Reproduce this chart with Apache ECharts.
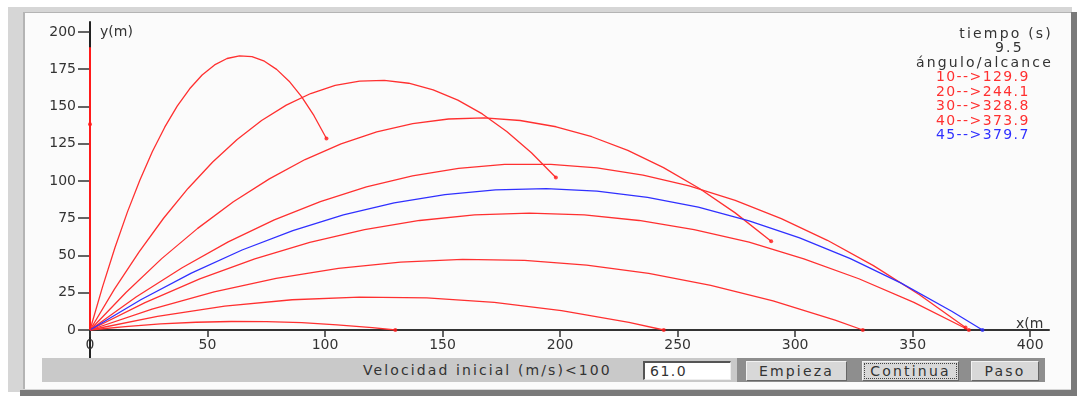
<!DOCTYPE html>
<html>
<head>
<meta charset="utf-8">
<script src="https://cdn.jsdelivr.net/npm/echarts@6/dist/echarts.min.js"></script>
<style>
  body { margin: 0; width: 1077px; height: 396px; background: #fff; position: relative; overflow: hidden; font-family: "DejaVu Sans", sans-serif; }
  .abs { position: absolute; }
  #frame { left: 8px; top: 7px; width: 1064px; height: 385px; background: #d6d6d6; }
  #rbar { left: 1071px; top: 12px; width: 6px; height: 384px; background: #7a7a7a; }
  #bbar { left: 20px; top: 390px; width: 1057px; height: 6px; background: #7a7a7a; }
  #panel { left: 23px; top: 12px; width: 1046px; height: 376px; background: #fbfbfb; border-left: 2px solid #b4b4b4; border-top: 1px solid #b4b4b4; }
  #chart { left: 0; top: 0; width: 1077px; height: 396px; }
  .leg { font-size: 14px; letter-spacing: 2.2px; line-height: 14px; white-space: nowrap; color: #333; }
  #ctrl { left: 42px; top: 358px; width: 1003px; height: 24px; background: #c9c9c9; }
  #ctrl .lbl { left: 321px; top: 4px; font-size: 14px; letter-spacing: 2.1px; color: #333; white-space: nowrap; }
  #inp { left: 601px; top: 3px; width: 80px; height: 16px; background: #fff; border-top: 2px solid #555; border-left: 2px solid #555; border-bottom: 1px solid #eee; border-right: 1px solid #eee; font-size: 14px; letter-spacing: 1.5px; color: #333; padding-left: 5px; line-height: 16px; box-sizing: content-box; }
  #btns { left: 695px; top: 0px; width: 308px; height: 24px; background: #8e8e8e; }
  .btn { top: 3px; height: 18px; background: #d8d8d8; border-top: 1px solid #f2f2f2; border-left: 1px solid #f2f2f2; border-bottom: 1px solid #666; border-right: 1px solid #666; font-size: 14px; letter-spacing: 2.2px; color: #333; text-align: center; line-height: 18px; white-space: nowrap; }
  .focus { outline: 1px dotted #444; outline-offset: -3px; }
</style>
</head>
<body>
<div class="abs" id="frame"></div>
<div class="abs" id="rbar"></div>
<div class="abs" id="bbar"></div>
<div class="abs" id="panel"></div>
<div class="abs" id="chart"></div>

<div class="abs leg" style="right:24px; top:26px;">tiempo (s)</div>
<div class="abs leg" style="left:995px; top:40px;">9.5</div>
<div class="abs leg" style="right:24px; top:55px;">ángulo/alcance</div>
<div class="abs leg" id="rows" style="left:936px; top:69px; line-height:14.5px; letter-spacing:1.4px;"></div>

<div class="abs" id="ctrl">
  <div class="abs lbl">Velocidad inicial (m/s)&lt;100</div>
  <div class="abs" id="inp">61.0</div>
  <div class="abs" id="btns">
    <div class="abs btn" style="left:9px; width:99px;">Empieza</div>
    <div class="abs btn focus" style="left:125px; width:95px;">Continua</div>
    <div class="abs btn" style="left:234px; width:66px;">Paso</div>
  </div>
</div>

<script>
// valores (v0 = 61 m/s, t = 9.5 s)
const angulos = [10, 20, 30, 40, 45]
const alcances = ['129.9', '244.1', '328.8', '373.9', '379.7']
const xTicks = [0, 50, 100, 150, 200, 250, 300, 350, 400]
const yTicks = [0, 25, 50, 75, 100, 125, 150, 175, 200]

const a10 = [[0, 0], [15.0, 2.3], [30.0, 4.1], [45.1, 5.2], [60.1, 5.7], [75.1, 5.6], [90.1, 4.9], [105.1, 3.5], [120.1, 1.6], [129.9, 0]]
const a20 = [[0, 0], [28.7, 9.2], [57.3, 16.0], [86.0, 20.3], [114.6, 22.1], [143.3, 21.5], [172.0, 18.5], [200.6, 13.0], [229.3, 5.1], [244.1, 0]]
const a30 = [[0, 0], [26.4, 14.0], [52.8, 25.6], [79.2, 34.7], [105.7, 41.4], [132.1, 45.6], [158.5, 47.4], [184.9, 46.7],
  [211.3, 43.6], [237.7, 38.0], [264.1, 30.0], [290.6, 19.5], [317.0, 6.6], [328.8, 0]]
const a40 = [[0, 0], [23.4, 18.4], [46.7, 34.3], [70.1, 47.8], [93.5, 58.8], [116.8, 67.4], [140.2, 73.5], [163.6, 77.2], [186.9, 78.4],
  [210.3, 77.2], [233.6, 73.5], [257.0, 67.4], [280.4, 58.9], [303.7, 47.8], [327.1, 34.4], [350.5, 18.5], [373.9, 0]]
const a45 = [[0, 0], [21.6, 20.3], [43.1, 38.2], [64.7, 53.7], [86.3, 66.7], [107.8, 77.2], [129.4, 85.3], [151.0, 90.9], [172.5, 94.1],
  [194.1, 94.9], [215.7, 93.2], [237.2, 89.0], [258.8, 82.4], [280.4, 73.3], [301.9, 61.8], [323.5, 47.9], [345.1, 31.5], [366.6, 12.6], [379.7, 0]]
const a50 = [[0, 0], [19.6, 22.1], [39.2, 41.8], [58.8, 59.1], [78.4, 73.9], [98.0, 86.2], [117.6, 96.1], [137.2, 103.5], [156.8, 108.5],
  [176.4, 111.1], [196.1, 111.1], [215.7, 108.8], [235.3, 104.0], [254.9, 96.7], [274.5, 87.0], [294.1, 74.8], [313.7, 60.2], [333.3, 43.2],
  [352.9, 23.7], [372.5, 1.7]]
const a60 = [[0, 0], [15.3, 25.2], [30.5, 47.9], [45.8, 68.2], [61.0, 86.1], [76.3, 101.4], [91.5, 114.4], [106.8, 124.9], [122.0, 132.9],
  [137.3, 138.5], [152.5, 141.6], [167.8, 142.3], [183.0, 140.6], [198.3, 136.4], [213.5, 129.7], [228.8, 120.6], [244.0, 109.0],
  [259.3, 95.0], [274.5, 78.6], [289.8, 59.6]]
const a70 = [[0, 0], [10.4, 27.4], [20.9, 52.4], [31.3, 75.0], [41.7, 95.0], [52.2, 112.7], [62.6, 127.9], [73.0, 140.6], [83.5, 150.9],
  [93.9, 158.7], [104.3, 164.1], [114.7, 167.0], [125.2, 167.5], [135.6, 165.6], [146.0, 161.2], [156.5, 154.3], [166.9, 145.0],
  [177.3, 133.2], [187.8, 119.0], [198.2, 102.3]]
const a80 = [[0, 0], [5.3, 28.8], [10.6, 55.2], [15.9, 79.1], [21.2, 100.5], [26.5, 119.6], [31.8, 136.1], [37.1, 150.2], [42.4, 161.9],
  [47.7, 171.1], [53.0, 177.9], [58.3, 182.2], [63.6, 184.0], [68.9, 183.5], [74.2, 180.4], [79.4, 174.9], [84.7, 167.0],
  [90.0, 156.6], [95.3, 143.8], [100.6, 128.5]]
const a90 = [[0, 0], [0, 189.8], [0, 138]]

const rojo = '#ff3030'
const azul = '#3030ff'

// tabla de la derecha
document.getElementById('rows').innerHTML = angulos
  .map((a, i) => '<div style="color:' + (a === 45 ? azul : rojo) + '">' + a + '--&gt;' + alcances[i] + '</div>')
  .join('')

const chart = echarts.init(document.getElementById('chart'))

const curvas = [a10, a20, a30, a40, a45, a50, a60, a70, a80]
const series = curvas.map((d) => ({
  type: 'line',
  data: d,
  showSymbol: false,
  silent: true,
  lineStyle: { color: d === a45 ? azul : rojo, width: 1.3 },
  z: d === a45 ? 4 : 3
}))
series.push({
  type: 'line',
  data: a90.slice(0, 2),
  showSymbol: false,
  lineStyle: { color: '#ff1a1a', width: 2 },
  z: 5
})
// puntos finales / posicion actual
series.push({
  type: 'scatter',
  symbolSize: 4,
  data: curvas.map((d) => ({ value: d[d.length - 1], itemStyle: { color: d === a45 ? azul : '#ff1a1a' } }))
    .concat([{ value: a90[2], itemStyle: { color: '#ff1a1a' } }]),
  z: 6
})

const txt = { fontFamily: 'DejaVu Sans', fontSize: 14, color: '#333' }

chart.setOption({
  animation: false,
  grid: { left: 90, top: 22, width: 959, height: 308 },
  xAxis: {
    type: 'value',
    min: 0,
    max: 408,
    splitLine: { show: false },
    axisLine: { lineStyle: { color: '#333', width: 2 } },
    axisTick: { customValues: xTicks, length: 7, lineStyle: { color: '#333', width: 1.5 } },
    axisLabel: { customValues: xTicks, margin: 8, ...txt }
  },
  yAxis: {
    type: 'value',
    min: 0,
    max: 206.7,
    splitLine: { show: false },
    axisLine: { show: true, lineStyle: { color: '#222', width: 2 } },
    axisTick: { show: true, customValues: yTicks, length: 12, lineStyle: { color: '#333', width: 1.5 } },
    axisLabel: { customValues: yTicks, margin: 14, ...txt }
  },
  series: series
})

// prolongacion del eje y por debajo del eje x, y rotulos de ejes
const o = chart.convertToPixel({ gridIndex: 0 }, [0, 0])
chart.setOption({
  graphic: [
    { type: 'line', shape: { x1: o[0], y1: o[1], x2: o[0], y2: o[1] + 28 }, style: { stroke: '#222', lineWidth: 2 } },
    { type: 'text', left: 100, top: 25, style: { text: 'y(m)', fill: '#333', font: '14px "DejaVu Sans"' } },
    { type: 'text', left: 1016, top: 317, style: { text: 'x(m', fill: '#333', font: '14px "DejaVu Sans"' } }
  ]
})
</script>
</body>
</html>
